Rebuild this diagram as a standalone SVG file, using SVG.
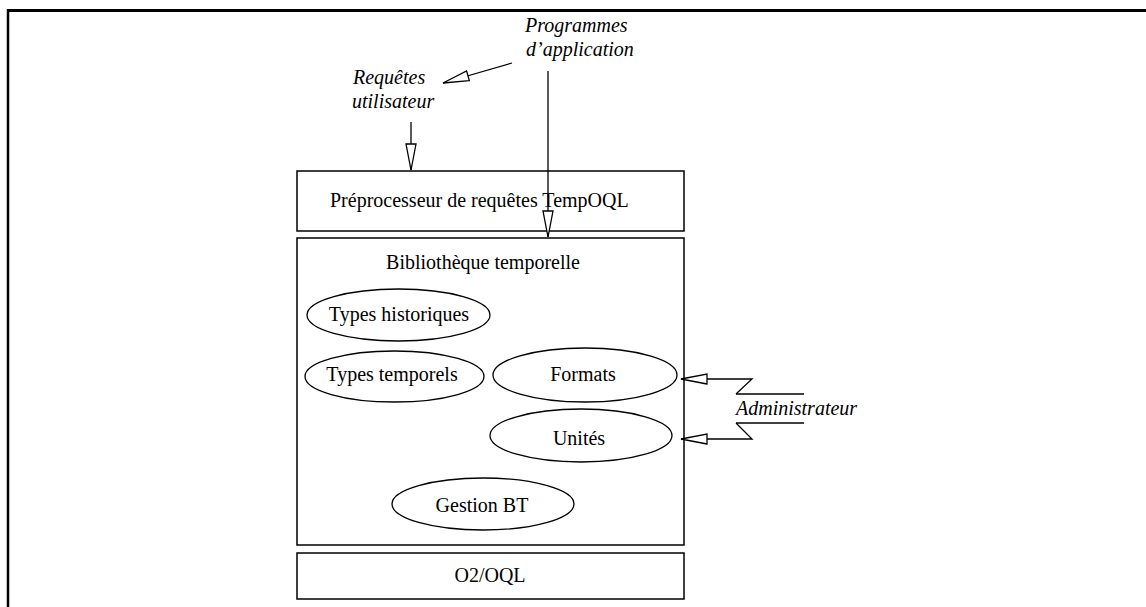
<svg xmlns="http://www.w3.org/2000/svg" width="1146" height="607" viewBox="0 0 1146 607">
<style>
.t{font-family:"Liberation Serif","Times New Roman",serif;font-size:20px;fill:#000}
.i{font-style:italic}
.box{fill:#fff;stroke:#000;stroke-width:1.5}
.ell{fill:#fff;stroke:#000;stroke-width:1.3}
.ln{fill:none;stroke:#000;stroke-width:1.3}
</style>
<defs>
<marker id="ah" viewBox="0 0 28 12" refX="27" refY="6" markerWidth="28" markerHeight="12" markerUnits="userSpaceOnUse" orient="auto">
<path d="M1,1 L27,6 L1,11 Z" fill="#fff" stroke="#000" stroke-width="1.3"/>
</marker>
</defs>
<rect width="1146" height="607" fill="#fff"/>
<g id="frame">
<line x1="7" y1="10.5" x2="1146" y2="10.5" stroke="#000" stroke-width="3"/>
<line x1="8" y1="9" x2="8" y2="607" stroke="#000" stroke-width="2.5"/>
</g>
<g id="preprocesseur">
<rect class="box" x="297" y="171" width="387" height="60"/>
<text class="t" x="330" y="207">Préprocesseur de requêtes TempOQL</text>
</g>
<g id="bibliotheque">
<rect class="box" x="297" y="238" width="387" height="307"/>
<text class="t" x="483" y="269" text-anchor="middle">Bibliothèque temporelle</text>
</g>
<g id="types-historiques">
<ellipse class="ell" cx="398.5" cy="315" rx="91.5" ry="26"/>
<text class="t" x="399" y="321" text-anchor="middle">Types historiques</text>
</g>
<g id="types-temporels">
<ellipse class="ell" cx="394.5" cy="376.5" rx="89.5" ry="25.5"/>
<text class="t" x="392" y="381" text-anchor="middle">Types temporels</text>
</g>
<g id="formats">
<ellipse class="ell" cx="585" cy="375" rx="92" ry="27"/>
<text class="t" x="583" y="381" text-anchor="middle">Formats</text>
</g>
<g id="unites">
<ellipse class="ell" cx="581" cy="435.5" rx="91" ry="26.5"/>
<text class="t" x="579" y="445" text-anchor="middle">Unités</text>
</g>
<g id="gestion-bt">
<ellipse class="ell" cx="483" cy="504" rx="91" ry="26"/>
<text class="t" x="482" y="512" text-anchor="middle">Gestion BT</text>
</g>
<g id="o2oql">
<rect class="box" x="297" y="553" width="387" height="46"/>
<text class="t" x="490" y="582" text-anchor="middle">O2/OQL</text>
</g>
<g id="requetes-utilisateur">
<text class="t i" x="353" y="84">Requêtes</text>
<text class="t i" x="352" y="108">utilisateur</text>
</g>
<g id="programmes-application">
<text class="t i" x="525" y="32">Programmes</text>
<text class="t i" x="526" y="56">d’application</text>
</g>
<g id="administrateur">
<text class="t i" x="736" y="415">Administrateur</text>
<line class="ln" x1="736" y1="394" x2="804" y2="394"/>
<line class="ln" x1="736" y1="423" x2="804" y2="423"/>
</g>
<g id="connectors">
<line class="ln" x1="411" y1="122" x2="411" y2="170" marker-end="url(#ah)"/>
<line class="ln" x1="512" y1="63" x2="443" y2="83" marker-end="url(#ah)"/>
<line class="ln" x1="548" y1="71" x2="548" y2="237" marker-end="url(#ah)"/>
<polyline class="ln" points="736,394 752,379 681,379" marker-end="url(#ah)"/>
<polyline class="ln" points="736,423 752,439 681,439" marker-end="url(#ah)"/>
</g>
</svg>
